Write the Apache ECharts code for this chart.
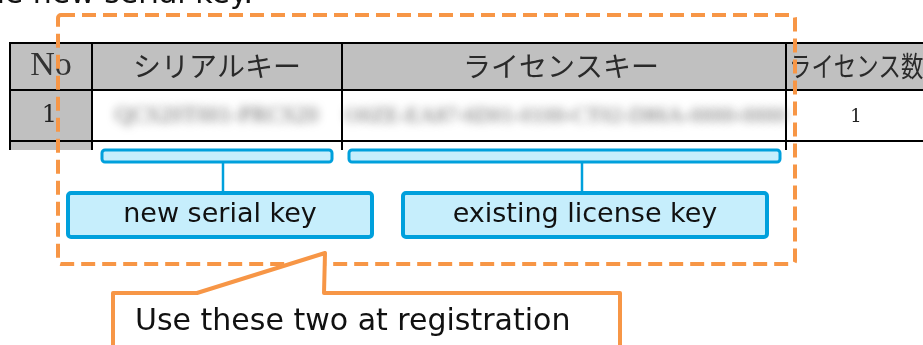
<!DOCTYPE html>
<html>
<head>
<meta charset="utf-8">
<script src="https://cdn.jsdelivr.net/npm/echarts@6/dist/echarts.min.js"></script>
<style>
  html, body { margin: 0; padding: 0; background: #ffffff; }
  #chart { width: 923px; height: 345px; }
</style>
</head>
<body>
<div id="chart"></div>
<script>
// ---- content (text) ----
var introText = "the new serial key.";
var headerLabels = ["No", "シリアルキー", "ライセンスキー", "ライセンス数"];
var rowNo = ["1"];
var rowSerial = ["QCS20T001-PRCS20"];
var rowLicenseKey = ["O0ZE-EA87-6D01-0100-CT02-D86A-0000-0000"];
var rowCount = ["1"];
var bracketLabels = ["new serial key", "existing license key"];
var calloutText = "Use these two at registration";

// ---- layout ----
var colEdges = [10, 92, 342, 786, 940];
var rowEdges = [43, 90, 141, 200];
var ORANGE = "#f79646";
var BLUE = "#00a0dc";
var LIGHTBLUE = "#c6eefc";
var GRAY = "#c0c0c0";

var g = [];
// intro text (cut at top)
g.push({ type: "text", x: 253, y: -5, style: { text: introText, fontSize: 30, fontFamily: "DejaVu Sans", fill: "#111", textAlign: "right", textVerticalAlign: "middle" } });

// table cell fills
for (var r = 0; r < rowEdges.length - 1; r++) {
  for (var c = 0; c < colEdges.length - 1; c++) {
    var fill = (r === 0 || c === 0) ? GRAY : "#ffffff";
    g.push({ type: "rect", shape: { x: colEdges[c], y: rowEdges[r], width: colEdges[c + 1] - colEdges[c], height: rowEdges[r + 1] - rowEdges[r] }, style: { fill: fill } });
  }
}
g.push({ type: "rect", shape: { x: 0, y: 150, width: 923, height: 200 }, style: { fill: "#ffffff" } });
// table lines
for (var i = 0; i < rowEdges.length - 1; i++) {
  g.push({ type: "line", shape: { x1: colEdges[0], y1: rowEdges[i], x2: 923, y2: rowEdges[i] }, style: { stroke: "#000", lineWidth: 2 } });
}
for (var j = 0; j < colEdges.length - 1; j++) {
  g.push({ type: "line", shape: { x1: colEdges[j], y1: rowEdges[0] - 1, x2: colEdges[j], y2: 150 }, style: { stroke: "#000", lineWidth: 2 } });
}
// header labels
var headerX = [51, 217, 561, 789];
var headerScale = [1, 1, 1, 0.8];
var headerAlign = ["center", "center", "center", "left"];
g.push({ type: "text", x: headerX[0], y: 66, style: { text: headerLabels[0], fontSize: 34, fontFamily: "Liberation Serif", fill: "#333", textAlign: "center", textVerticalAlign: "middle" } });
for (var h = 1; h < headerLabels.length; h++) {
  g.push({ type: "text", x: headerX[h], y: 66, scaleX: headerScale[h], style: { text: headerLabels[h], fontSize: 28, fontFamily: "Noto Sans CJK JP", fill: "#2a2a2a", textAlign: headerAlign[h], textVerticalAlign: "middle" } });
}
// row 1
g.push({ type: "text", x: 57, y: 116, style: { text: rowNo[0], fontSize: 24, fontFamily: "DejaVu Serif", fill: "#222", textAlign: "right", textVerticalAlign: "middle" } });
g.push({ type: "text", x: 856, y: 117, style: { text: rowCount[0], fontSize: 18, fontFamily: "DejaVu Serif", fill: "#222", textAlign: "center", textVerticalAlign: "middle" } });
// blurred values: text drawn off-canvas, only its blurred shadow lands in the cell
var OFF = 3000;
function blurred(txt, x, y, size) {
  return { type: "text", x: x - OFF, y: y, style: { text: txt, fontSize: size, fontFamily: "Liberation Serif", fill: "#8a8a8a", textAlign: "left", textVerticalAlign: "middle",
    textShadowColor: "rgba(95,95,95,0.95)", textShadowBlur: 8, textShadowOffsetX: OFF, textShadowOffsetY: 0,
    shadowColor: "rgba(95,95,95,0.95)", shadowBlur: 8, shadowOffsetX: OFF, shadowOffsetY: 0 } };
}
g.push(blurred(rowSerial[0], 115, 116, 23));
g.push(blurred(rowLicenseKey[0], 345, 116, 22));

// orange dashed region
g.push({ type: "rect", shape: { x: 58, y: 15, width: 737, height: 249, r: 3 }, style: { fill: "none", stroke: ORANGE, lineWidth: 4, lineDash: [14, 7] } });

// blue brackets
var brackets = [[102, 332, 223, 68, 372], [349, 780, 582, 403, 767]];
for (var b = 0; b < brackets.length; b++) {
  var bk = brackets[b];
  g.push({ type: "rect", shape: { x: bk[0], y: 150, width: bk[1] - bk[0], height: 12, r: 3 }, style: { fill: LIGHTBLUE, stroke: BLUE, lineWidth: 3 } });
  g.push({ type: "line", shape: { x1: bk[2], y1: 162, x2: bk[2], y2: 193 }, style: { stroke: BLUE, lineWidth: 2.5 } });
  g.push({ type: "rect", shape: { x: bk[3], y: 193, width: bk[4] - bk[3], height: 44, r: 3 }, style: { fill: LIGHTBLUE, stroke: BLUE, lineWidth: 4 } });
  g.push({ type: "text", x: (bk[3] + bk[4]) / 2, y: 215, style: { text: bracketLabels[b], fontSize: 27, fontFamily: "DejaVu Sans", fill: "#111", textAlign: "center", textVerticalAlign: "middle" } });
}

// callout
g.push({ type: "polygon", shape: { points: [[113, 293], [197, 293], [325, 253], [324, 293], [620, 293], [620, 380], [113, 380]] }, style: { fill: "#ffffff", stroke: ORANGE, lineWidth: 4, lineJoin: "round" } });
g.push({ type: "text", x: 135, y: 322, style: { text: calloutText, fontSize: 30, fontFamily: "DejaVu Sans", fill: "#111", textAlign: "left", textVerticalAlign: "middle" } });

var chart = echarts.init(document.getElementById("chart"), null, { renderer: "canvas" });
chart.setOption({ backgroundColor: "#ffffff", animation: false, graphic: { elements: g } });
</script>
</body>
</html>
